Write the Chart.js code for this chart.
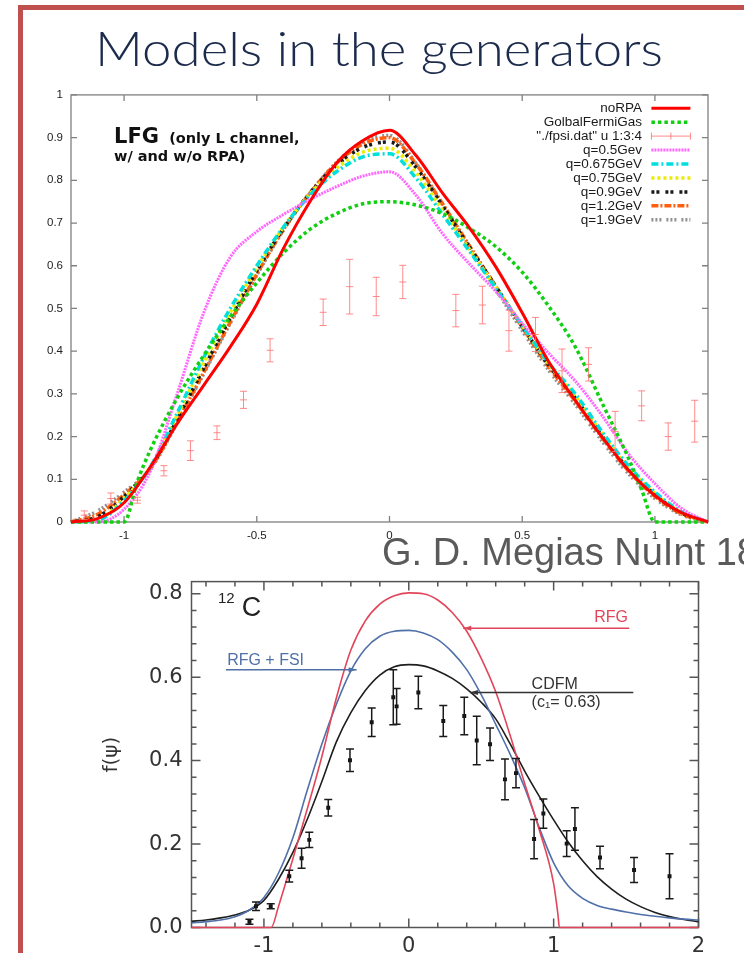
<!DOCTYPE html>
<html lang="en">
<head>
<meta charset="utf-8">
<title>Models in the generators</title>
<script src="https://cdn.jsdelivr.net/npm/chart.js@4.4.1/dist/chart.umd.min.js"></script>
<style>
  html, body { margin: 0; padding: 0; background: #fff; }
  body { width: 744px; height: 953px; position: relative; overflow: hidden; }
  #frame { position: absolute; left: 18px; top: 5px; width: 760px; height: 980px;
           border-left: 5px solid #c0504d; border-top: 5px solid #c0504d; }
  #title { position: absolute; left: 95px; top: 25px; margin: 0;
           font: 300 47px/47px Lato, "Open Sans", sans-serif; color: #1c2b4b;
           white-space: nowrap; transform-origin: 0 0; }
  #credit { position: absolute; left: 382px; top: 533px; margin: 0;
            font: 38px/38px "Liberation Sans", Arial, sans-serif; color: #5a5a5a; white-space: nowrap; }
  canvas { position: absolute; }
  #lfg { left: 20px; top: 80px; }
  #carbon { left: 90px; top: 560px; }
</style>
</head>
<body>
<div id="frame"></div>
<h1 id="title">Models in the generators</h1>
<canvas id="lfg" width="700" height="470"></canvas>
<canvas id="carbon" width="654" height="393"></canvas>
<div id="credit">G. D. Megias NuInt 18</div>
<script>
// ---------------- upper panel: LFG scaling functions ----------------
const psiGrid = [-1.2,-1.1,-1.0,-0.9,-0.8,-0.7,-0.6,-0.5,-0.4,-0.3,-0.2,-0.1,0,0.1,0.2,0.3,0.4,0.5,0.6,0.7,0.8,0.9,1.0,1.1,1.2];
const noRPA  = [0,0.008,0.045,0.13,0.23,0.32,0.41,0.51,0.64,0.75,0.84,0.893,0.917,0.858,0.77,0.69,0.598,0.49,0.375,0.285,0.2,0.122,0.062,0.022,0];
const psiGfg = [-1.2,-1.1,-1.0,-0.95,-0.9,-0.8,-0.7,-0.6,-0.5,-0.4,-0.3,-0.2,-0.1,0,0.1,0.2,0.3,0.4,0.5,0.6,0.7,0.8,0.9,0.95,1.0,1.1,1.2];
const globalFermiGas = [0,0,0,0.095,0.17,0.29,0.39,0.48,0.56,0.63,0.685,0.722,0.745,0.75,0.742,0.722,0.688,0.645,0.585,0.505,0.41,0.28,0.15,0.075,0,0,0];
const q050  = [0,0,0.03,0.12,0.30,0.49,0.62,0.68,0.72,0.755,0.785,0.81,0.82,0.765,0.675,0.605,0.54,0.465,0.395,0.33,0.25,0.16,0.09,0.032,0];
const q0675 = [0,0.004,0.05,0.13,0.255,0.385,0.5,0.6,0.69,0.765,0.82,0.855,0.862,0.805,0.72,0.635,0.548,0.46,0.372,0.3,0.212,0.132,0.07,0.024,0];
const q075  = [0,0.006,0.055,0.13,0.25,0.372,0.49,0.595,0.69,0.768,0.828,0.866,0.875,0.818,0.73,0.64,0.55,0.46,0.37,0.295,0.208,0.128,0.067,0.022,0];
const q090  = [0,0.012,0.06,0.128,0.24,0.36,0.478,0.588,0.687,0.77,0.835,0.877,0.89,0.83,0.74,0.645,0.552,0.458,0.367,0.29,0.203,0.124,0.064,0.021,0];
const q120  = [0,0.018,0.064,0.126,0.235,0.35,0.468,0.58,0.684,0.77,0.84,0.885,0.9,0.838,0.745,0.648,0.552,0.456,0.363,0.283,0.198,0.12,0.06,0.019,0];
const q190  = [0,0.026,0.07,0.125,0.232,0.347,0.465,0.578,0.683,0.77,0.842,0.89,0.905,0.84,0.742,0.642,0.545,0.448,0.355,0.275,0.19,0.113,0.055,0.017,0];
// "./fpsi.dat" columns 1:3:4
const psiData = [-1.15,-1.05,-0.95,-0.85,-0.75,-0.65,-0.55,-0.45,-0.25,-0.15,-0.05,0.05,0.25,0.35,0.45,0.55,0.65,0.75,0.85,0.95,1.05,1.15];
const fData   = [0.016,0.055,0.051,0.12,0.167,0.209,0.286,0.402,0.491,0.551,0.528,0.562,0.495,0.508,0.448,0.439,0.354,0.369,0.212,0.272,0.2,0.236];
const fErr    = [0.01,0.013,0.007,0.012,0.023,0.016,0.02,0.027,0.031,0.064,0.045,0.039,0.038,0.044,0.048,0.04,0.051,0.039,0.047,0.035,0.032,0.049];
const topXTicks = [-1,-0.5,0,0.5,1];
const topYTicks = [0,0.1,0.2,0.3,0.4,0.5,0.6,0.7,0.8,0.9,1];

// ---------------- lower panel: 12C superscaling ----------------
const psiRfg = [-1.5,-1.0,-0.95,-0.9,-0.8,-0.7,-0.6,-0.5,-0.4,-0.3,-0.2,-0.1,0,0.1,0.2,0.3,0.4,0.5,0.6,0.7,0.8,0.9,1.0,1.03,1.04,1.5,2.0];
const rfg    = [0,0,0,0.05,0.165,0.285,0.41,0.55,0.665,0.735,0.775,0.795,0.802,0.8,0.785,0.755,0.71,0.645,0.565,0.46,0.345,0.235,0.105,0.03,0,0,0];
const psiWide = [-1.5,-1.4,-1.3,-1.2,-1.1,-1.0,-0.9,-0.8,-0.7,-0.6,-0.5,-0.4,-0.3,-0.2,-0.1,0,0.1,0.2,0.3,0.4,0.5,0.6,0.7,0.8,0.9,1.0,1.1,1.2,1.3,1.4,1.5,1.6,1.7,1.8,1.9,2.0];
const rfgFsi = [0.011,0.014,0.018,0.026,0.042,0.072,0.13,0.215,0.33,0.44,0.535,0.615,0.668,0.698,0.71,0.712,0.706,0.69,0.66,0.618,0.558,0.487,0.415,0.335,0.24,0.155,0.1,0.07,0.053,0.044,0.037,0.031,0.027,0.023,0.02,0.018];
const cdfm   = [0.015,0.018,0.023,0.03,0.042,0.065,0.115,0.18,0.26,0.35,0.445,0.515,0.568,0.605,0.625,0.63,0.627,0.615,0.597,0.572,0.54,0.5,0.44,0.375,0.315,0.258,0.205,0.16,0.122,0.092,0.068,0.05,0.036,0.026,0.019,0.014];
const psiPts = [-1.1,-1.055,-0.953,-0.825,-0.74,-0.687,-0.556,-0.406,-0.256,-0.107,-0.084,0.066,0.238,0.383,0.469,0.561,0.664,0.74,0.865,0.929,1.09,1.147,1.32,1.555,1.8];
const fPts   = [0.014,0.051,0.051,0.123,0.166,0.21,0.287,0.401,0.492,0.552,0.53,0.563,0.495,0.507,0.448,0.439,0.355,0.37,0.212,0.273,0.201,0.236,0.168,0.138,0.123];
const errPts = [0.006,0.01,0.006,0.014,0.024,0.018,0.02,0.027,0.034,0.066,0.043,0.039,0.037,0.045,0.058,0.039,0.049,0.035,0.047,0.035,0.031,0.051,0.027,0.03,0.054];
const botXTicks = [-1,0,1,2];
const botYTicks = [0,0.2,0.4,0.6,0.8];

const pts = (xs, ys) => xs.map((x, i) => ({x, y: ys[i]}));

// Plot frame with inward ticks on all four sides
const framePlugin = {
  id: 'frame',
  beforeDatasetsDraw(chart, args, o) {
    const {ctx, chartArea: a, scales: {x, y}} = chart;
    ctx.save();
    ctx.strokeStyle = o.color;
    ctx.lineWidth = o.width;
    ctx.strokeRect(a.left, a.top, a.right - a.left, a.bottom - a.top);
    ctx.beginPath();
    const xt = (v, len) => { const p = x.getPixelForValue(v);
      ctx.moveTo(p, a.bottom); ctx.lineTo(p, a.bottom - len);
      ctx.moveTo(p, a.top); ctx.lineTo(p, a.top + len); };
    const yt = (v, len) => { const p = y.getPixelForValue(v);
      ctx.moveTo(a.left, p); ctx.lineTo(a.left + len, p);
      ctx.moveTo(a.right, p); ctx.lineTo(a.right - len, p); };
    if (o.xMinor) for (let v = Math.ceil(x.min / o.xMinor) * o.xMinor; v <= x.max + 1e-9; v += o.xMinor) xt(v, o.minorLen);
    if (o.yMinor) for (let v = Math.ceil(y.min / o.yMinor) * o.yMinor; v <= y.max + 1e-9; v += o.yMinor) yt(v, o.minorLen);
    x.ticks.forEach(t => xt(t.value, o.majorLen));
    y.ticks.forEach(t => yt(t.value, o.majorLen));
    ctx.stroke();
    ctx.restore();
  }
};

// Vertical error bars with caps (and optional centre mark)
const errorBarPlugin = {
  id: 'errorBars',
  afterDatasetsDraw(chart) {
    const {ctx, scales: {x, y}} = chart;
    chart.data.datasets.forEach(ds => {
      if (!ds.errors) return;
      ctx.save();
      ctx.strokeStyle = ds.errorColor;
      ctx.lineWidth = ds.errorWidth;
      ctx.beginPath();
      ds.data.forEach((p, j) => {
        const e = ds.errors[j];
        const px = x.getPixelForValue(p.x);
        const lo = y.getPixelForValue(p.y - e), hi = y.getPixelForValue(p.y + e);
        const c = ds.capHalf;
        ctx.moveTo(px, lo); ctx.lineTo(px, hi);
        ctx.moveTo(px - c, lo); ctx.lineTo(px + c, lo);
        ctx.moveTo(px - c, hi); ctx.lineTo(px + c, hi);
        if (ds.centreMark) { const pc = y.getPixelForValue(p.y); ctx.moveTo(px - c, pc); ctx.lineTo(px + c, pc); }
      });
      ctx.stroke();
      ctx.restore();
    });
  }
};

// Text notes and leader lines placed in data coordinates
const notesPlugin = {
  id: 'notes',
  afterDraw(chart, args, o) {
    const {ctx, scales: {x, y}} = chart;
    ctx.save();
    (o.leaders || []).forEach(l => {
      const x0 = x.getPixelForValue(l.x0), x1 = x.getPixelForValue(l.x1), py = y.getPixelForValue(l.y);
      ctx.strokeStyle = l.color; ctx.fillStyle = l.color; ctx.lineWidth = 1.5;
      ctx.beginPath(); ctx.moveTo(x0, py); ctx.lineTo(x1, py); ctx.stroke();
      const tip = l.arrow === 'left' ? x0 : x1, dir = l.arrow === 'left' ? 1 : -1;
      ctx.beginPath(); ctx.moveTo(tip, py); ctx.lineTo(tip + dir * 8, py - 2.5); ctx.lineTo(tip + dir * 8, py + 2.5); ctx.closePath(); ctx.fill();
    });
    (o.texts || []).forEach(t => {
      ctx.font = t.font; ctx.fillStyle = t.color; ctx.textAlign = t.align || 'left'; ctx.textBaseline = 'alphabetic';
      ctx.fillText(t.text, x.getPixelForValue(t.x), y.getPixelForValue(t.y));
    });
    ctx.restore();
  }
};

// gnuplot-style key: right-aligned titles, line sample on the right
const keyPlugin = {
  id: 'gnuKey',
  afterDraw(chart, args, o) {
    const {ctx, chartArea: a} = chart;
    ctx.save();
    ctx.font = o.font; ctx.fillStyle = o.color; ctx.textAlign = 'right'; ctx.textBaseline = 'middle';
    chart.data.datasets.forEach((ds, i) => {
      const ry = a.top + o.firstRow + i * o.rowStep;
      ctx.fillText(ds.label, a.right - o.textGap, ry);
      const s0 = a.right - o.sampleFrom, s1 = a.right - o.sampleTo;
      ctx.save();
      if (ds.errors) {
        ctx.strokeStyle = ds.errorColor; ctx.lineWidth = 1;
        ctx.beginPath(); ctx.moveTo(s0, ry); ctx.lineTo(s1, ry);
        [s0, (s0 + s1) / 2, s1].forEach(sx => { ctx.moveTo(sx, ry - 3.5); ctx.lineTo(sx, ry + 3.5); });
        ctx.stroke();
      } else {
        ctx.strokeStyle = ds.borderColor; ctx.lineWidth = ds.borderWidth;
        ctx.setLineDash(ds.borderDash || []);
        ctx.beginPath(); ctx.moveTo(s0, ry); ctx.lineTo(s1, ry); ctx.stroke();
      }
      ctx.restore();
    });
    ctx.restore();
  }
};

Chart.defaults.font.family = '"Liberation Sans", Arial, sans-serif';
Chart.defaults.animation = false;

const curve = (label, xs, ys, color, dash, width) => ({
  label, data: pts(xs, ys), borderColor: color, backgroundColor: color,
  borderDash: dash, borderWidth: width, pointRadius: 0, fill: false,
  cubicInterpolationMode: 'monotone', clip: false
});

new Chart(document.getElementById('lfg'), {
  type: 'line',
  data: {
    datasets: [
      curve('noRPA', psiGrid, noRPA, '#ff0000', [], 3),
      curve('GolbalFermiGas', psiGfg, globalFermiGas, '#11d011', [3.5, 3], 3.5),
      { label: '"./fpsi.dat" u 1:3:4', data: pts(psiData, fData), errors: fErr,
        errorColor: 'rgba(255,110,110,0.8)', errorWidth: 1, capHalf: 3.5, centreMark: true,
        showLine: false, pointRadius: 0, borderColor: '#ff8080', backgroundColor: '#ff8080' },
      curve('q=0.5Gev', psiGrid, q050, '#ff66ff', [2, 1], 3),
      curve('q=0.675GeV', psiGrid, q0675, '#00dede', [7, 3, 2, 3], 3.5),
      curve('q=0.75GeV', psiGrid, q075, '#ecec00', [3, 3], 3.5),
      curve('q=0.9GeV', psiGrid, q090, '#1a1a1a', [3, 2, 3, 6], 3.5),
      curve('q=1.2GeV', psiGrid, q120, '#ff6010', [7, 2, 2, 2], 3.5),
      curve('q=1.9GeV', psiGrid, q190, '#909090', [2, 2, 2, 2, 2, 5], 3.5)
    ]
  },
  options: {
    responsive: false, devicePixelRatio: 1,
    layout: { padding: { left: 0, top: 10, right: 12, bottom: 0 } },
    scales: {
      x: { type: 'linear', min: -1.2, max: 1.2,
           afterBuildTicks: s => { s.ticks = topXTicks.map(v => ({ value: v })); },
           afterFit: s => { s.height = 28; },
           grid: { display: false, drawTicks: false }, border: { display: false },
           ticks: { color: '#222', font: { size: 11.5 }, padding: 7, callback: v => String(v) } },
      y: { type: 'linear', min: 0, max: 1,
           afterBuildTicks: s => { s.ticks = topYTicks.map(v => ({ value: v })); },
           afterFit: s => { s.width = 51; },
           grid: { display: false, drawTicks: false }, border: { display: false },
           ticks: { color: '#222', font: { size: 11.5 }, padding: 8, callback: v => String(v) } }
    },
    plugins: {
      legend: { display: false }, tooltip: { enabled: false },
      frame: { color: '#808080', width: 1.3, majorLen: 6, minorLen: 0 },
      gnuKey: { font: '13.5px "Liberation Sans", Arial, sans-serif', color: '#1a1a1a',
                firstRow: 13.3, rowStep: 13.95, textGap: 66, sampleFrom: 56.6, sampleTo: 17.6 },
      notes: { texts: [
        { text: 'LFG', x: -1.038, y: 0.888, font: 'bold 21px "DejaVu Sans", sans-serif', color: '#111' },
        { text: '(only L channel,', x: -0.83, y: 0.888, font: 'bold 14.5px "DejaVu Sans", sans-serif', color: '#111' },
        { text: 'w/ and w/o RPA)', x: -1.038, y: 0.845, font: 'bold 14.5px "DejaVu Sans", sans-serif', color: '#111' }
      ] }
    }
  },
  plugins: [framePlugin, errorBarPlugin, keyPlugin, notesPlugin]
});

const wideFont = '"DejaVu Sans", "Liberation Sans", sans-serif';

new Chart(document.getElementById('carbon'), {
  type: 'line',
  data: {
    datasets: [
      { label: 'data', data: pts(psiPts, fPts), errors: errPts, errorColor: '#1a1a1a', errorWidth: 1.5,
        capHalf: 4, showLine: false, pointStyle: 'rect', pointRadius: 2.8,
        backgroundColor: '#111', borderColor: '#111', borderWidth: 0 },
      curve('RFG', psiRfg, rfg, '#e2455a', [], 1.6),
      curve('RFG + FSI', psiWide, rfgFsi, '#5070a8', [], 1.6),
      curve('CDFM', psiWide, cdfm, '#1e1e1e', [], 1.6)
    ]
  },
  options: {
    responsive: false, devicePixelRatio: 1,
    layout: { padding: { left: 0, top: 13, right: 45.5, bottom: 0 } },
    scales: {
      x: { type: 'linear', min: -1.5, max: 2,
           afterBuildTicks: s => { s.ticks = botXTicks.map(v => ({ value: v })); },
           afterFit: s => { s.height = 25.5; },
           grid: { display: false, drawTicks: false }, border: { display: false },
           ticks: { color: '#333', font: { family: wideFont, size: 21 }, padding: 6, callback: v => String(v) } },
      y: { type: 'linear', min: 0, max: 0.829,
           afterBuildTicks: s => { s.ticks = botYTicks.map(v => ({ value: v })); },
           afterFit: s => { s.width = 101.5; },
           grid: { display: false, drawTicks: false }, border: { display: false },
           title: { display: true, text: 'f(ψ)', color: '#333', font: { family: wideFont, size: 20 }, padding: { top: 10 } },
           ticks: { color: '#333', font: { family: wideFont, size: 21 }, padding: 9, callback: v => v.toFixed(1) } }
    },
    plugins: {
      legend: { display: false }, tooltip: { enabled: false },
      frame: { color: '#555', width: 1.5, majorLen: 9, minorLen: 5, xMinor: 0.2, yMinor: 0.04 },
      notes: {
        leaders: [
          { x0: -1.262, x1: -0.36, y: 0.618, color: '#5070a8', arrow: 'right' },
          { x0: 0.376, x1: 1.522, y: 0.717, color: '#e2455a', arrow: 'left' },
          { x0: 0.422, x1: 1.55, y: 0.563, color: '#333', arrow: 'left' }
        ],
        texts: [
          { text: '12', x: -1.317, y: 0.778, font: '15px "Liberation Sans", Arial, sans-serif', color: '#222' },
          { text: 'C', x: -1.153, y: 0.746, font: '27px "Liberation Sans", Arial, sans-serif', color: '#222' },
          { text: 'RFG + FSI', x: -1.254, y: 0.630, font: '16px "Liberation Sans", Arial, sans-serif', color: '#5070a8' },
          { text: 'RFG', x: 1.513, y: 0.731, font: '16px "Liberation Sans", Arial, sans-serif', color: '#e2455a', align: 'right' },
          { text: 'CDFM', x: 0.848, y: 0.572, font: '16px "Liberation Sans", Arial, sans-serif', color: '#333' },
          { text: '(c\u2081= 0.63)', x: 0.848, y: 0.5275, font: '16px "Liberation Sans", Arial, sans-serif', color: '#333' }
        ]
      }
    }
  },
  plugins: [framePlugin, errorBarPlugin, notesPlugin]
});

// stretch the heading to the slide's title width
const title = document.getElementById('title');
const fitTitle = () => {
  title.style.transform = 'none';
  const w = title.getBoundingClientRect().width;
  title.style.transform = 'scaleX(' + (568 / w) + ')';
};
fitTitle();
if (document.fonts && document.fonts.ready) document.fonts.ready.then(fitTitle);
</script>
</body>
</html>
